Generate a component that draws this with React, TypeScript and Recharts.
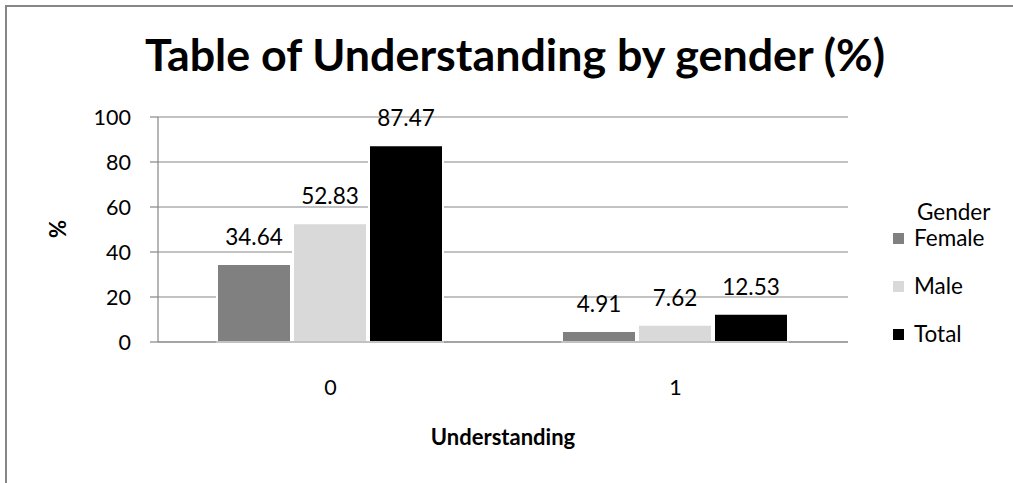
import React from 'react';
import { BarChart, Bar, XAxis, YAxis, CartesianGrid, LabelList } from 'recharts';

// Understanding level (category axis)
const categories: string[] = ['0', '1'];
// Percentages by gender
const female: number[] = [34.64, 4.91];
const male: number[] = [52.83, 7.62];
const total: number[] = [87.47, 12.53];
const yTicks: number[] = [0, 20, 40, 60, 80, 100];

const seriesNames = ['Female', 'Male', 'Total'];
const seriesColors = ['#808080', '#d9d9d9', '#000000'];

const data = categories.map((c, i) => ({
  understanding: c,
  Female: female[i],
  Male: male[i],
  Total: total[i],
}));

const FONT = 'Lato, "Open Sans", sans-serif';
const GRID = '#868686';

// vertical centre of each legend row
const legendRowY = [238, 286, 334];

const LegendBox = () => (
  <div style={{ fontFamily: FONT, fontSize: 22.5, color: '#000' }}>
    <div style={{ position: 'absolute', left: 917, top: 198, lineHeight: '28px' }}>Gender</div>
    {seriesNames.map((n, i) => (
      <div
        key={n}
        style={{
          position: 'absolute',
          left: 893,
          top: legendRowY[i] - 14,
          height: 28,
          display: 'flex',
          alignItems: 'center',
          lineHeight: '28px',
        }}
      >
        <span
          style={{
            display: 'inline-block',
            width: 11,
            height: 11,
            background: seriesColors[i],
            marginRight: 10,
          }}
        />
        <span>{n}</span>
      </div>
    ))}
  </div>
);

export default function App() {
  return (
    <div
      style={{
        position: 'absolute',
        left: 0,
        top: 0,
        width: 1013,
        height: 483,
        background: '#fff',
        overflow: 'hidden',
      }}
    >
      {/* chart frame (left and top edges) */}
      <div
        style={{
          position: 'absolute',
          left: 5,
          top: 5,
          width: 1020,
          height: 490,
          borderLeft: `2px solid ${GRID}`,
          borderTop: `2px solid ${GRID}`,
        }}
      />
      <div
        style={{
          position: 'absolute',
          left: 0,
          width: 1030,
          top: 28,
          textAlign: 'center',
          fontFamily: FONT,
          fontWeight: 700,
          fontSize: 44.8,
          lineHeight: '52px',
          color: '#000',
        }}
      >
        Table of Understanding by gender (%)
      </div>
      <div
        style={{
          position: 'absolute',
          left: 0,
          width: 1006,
          top: 423,
          textAlign: 'center',
          fontFamily: FONT,
          fontWeight: 700,
          fontSize: 22,
          lineHeight: '28px',
          color: '#000',
        }}
      >
        Understanding
      </div>
      <div
        style={{
          position: 'absolute',
          left: 45,
          top: 216,
          width: 26,
          height: 26,
          lineHeight: '26px',
          textAlign: 'center',
          transform: 'rotate(-90deg)',
          fontFamily: FONT,
          fontWeight: 700,
          fontSize: 22,
          color: '#000',
        }}
      >
        %
      </div>
      <div style={{ position: 'absolute', left: 0, top: 0 }}>
        <BarChart
          width={1013}
          height={483}
          data={data}
          margin={{ top: 117, right: 165, bottom: 81, left: 100 }}
          barCategoryGap={59}
          barGap={2}
        >
          <CartesianGrid vertical={false} stroke={GRID} strokeWidth={1.2} />
          <XAxis
            dataKey="understanding"
            height={60}
            axisLine={{ stroke: GRID, strokeWidth: 1.2 }}
            tickLine={false}
            tickSize={0}
            tickMargin={38}
            tick={{ fill: '#000', fontSize: 21.5, fontFamily: FONT }}
          />
          <YAxis
            width={58}
            domain={[0, 100]}
            ticks={yTicks}
            interval={0}
            axisLine={{ stroke: GRID, strokeWidth: 1.2 }}
            tickLine={{ stroke: GRID, strokeWidth: 1.2 }}
            tickSize={8}
            tickMargin={19}
            tick={{ fill: '#000', fontSize: 21.5, fontFamily: FONT }}
          />
          {seriesNames.map((n, i) => (
            <Bar
              key={n}
              dataKey={n}
              fill={seriesColors[i]}
              stroke="#ffffff"
              strokeWidth={2}
              isAnimationActive={false}
            >
              <LabelList
                dataKey={n}
                position="top"
                offset={19}
                fill="#000"
                fontSize={22.5}
                fontFamily={FONT}
              />
            </Bar>
          ))}
        </BarChart>
      </div>
      <LegendBox />
    </div>
  );
}
